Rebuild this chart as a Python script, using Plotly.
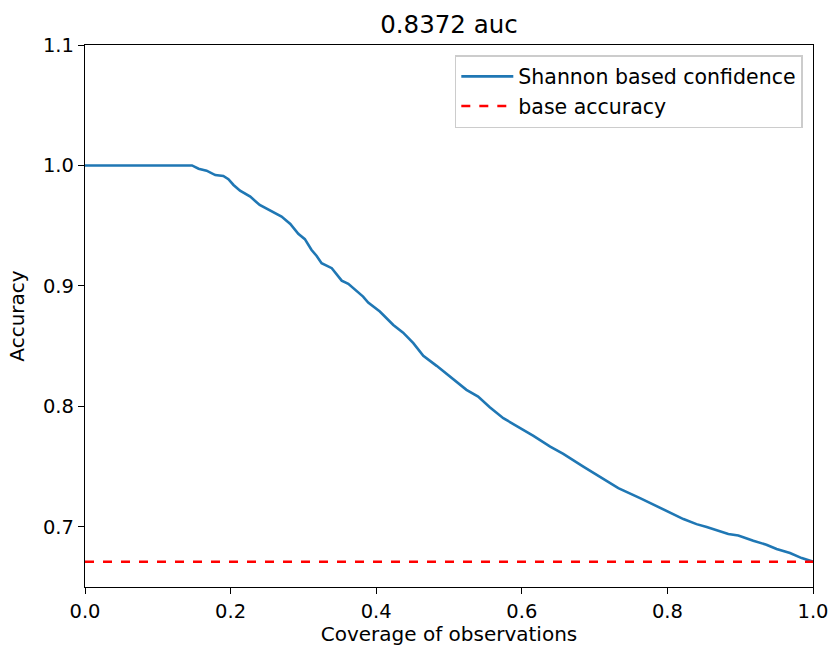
import plotly.graph_objects as go

coverage = [0.0, 0.147, 0.156, 0.167, 0.179, 0.190, 0.197, 0.204, 0.213, 0.227, 0.240, 0.254,
            0.270, 0.282, 0.293, 0.302, 0.311, 0.318, 0.325, 0.339, 0.3526, 0.3617, 0.3755,
            0.382, 0.389, 0.405, 0.4235, 0.437, 0.451, 0.4647, 0.483, 0.501, 0.524, 0.540,
            0.556, 0.5746, 0.593, 0.616, 0.639, 0.657, 0.6845, 0.7074, 0.7326, 0.7624,
            0.7944, 0.822, 0.840, 0.854, 0.8837, 0.8974, 0.918, 0.936, 0.950, 0.9684,
            0.9845, 1.0]
accuracy = [1.0, 1.0, 0.9973, 0.9957, 0.992, 0.9913, 0.9886, 0.9838, 0.979, 0.9741, 0.9672,
            0.963, 0.9575, 0.9514, 0.9432, 0.9388, 0.930, 0.925, 0.9188, 0.9147, 0.9044,
            0.9017, 0.894, 0.8911, 0.8862, 0.8787, 0.8676, 0.8612, 0.8524, 0.8419, 0.8336,
            0.8247, 0.8137, 0.8081, 0.7993, 0.7902, 0.7838, 0.7755, 0.7666, 0.7606, 0.750,
            0.7417, 0.7321, 0.7238, 0.7141, 0.7064, 0.7022, 0.6998, 0.694, 0.6928, 0.6884,
            0.6851, 0.6815, 0.6782, 0.6740, 0.671]
base_accuracy = 0.671
base_x = [0.0, 1.0]
title_text = "0.8372 auc"

FONT = "DejaVu Sans"

fig = go.Figure()
fig.add_trace(go.Scatter(x=coverage, y=accuracy, mode="lines",
                         name="Shannon based confidence",
                         line=dict(color="#1f77b4", width=2.6)))
fig.add_trace(go.Scatter(x=base_x, y=[base_accuracy] * len(base_x), mode="lines",
                         name="base accuracy",
                         line=dict(color="red", width=2.6, dash="dash")))

fig.update_layout(
    width=832, height=646,
    margin=dict(l=85, r=19, t=45, b=59, autoexpand=False),
    paper_bgcolor="white", plot_bgcolor="white",
    font=dict(family=FONT, size=19.5, color="black"),
    title=dict(text=title_text, x=0.5, xref="paper", xanchor="center",
               y=1 - 24 / 646, yanchor="middle", font=dict(size=24.5)),
    legend=dict(x=0.986, y=0.9815, xanchor="right", yanchor="top",
                bgcolor="white", bordercolor="#cccccc", borderwidth=1.5,
                font=dict(size=20.5), itemwidth=52, tracegroupgap=0),
    showlegend=True,
)
fig.update_xaxes(range=[0, 1], dtick=0.2, tickformat=".1f", showgrid=False, zeroline=False,
                 showline=True, linecolor="black", linewidth=1.3, mirror=True,
                 ticks="outside", ticklen=6, tickwidth=1.3, tickcolor="black", automargin=True,
                 title=dict(text="Coverage of observations", standoff=10, font=dict(size=20)))
fig.update_yaxes(range=[0.65, 1.1], tickvals=[0.7, 0.8, 0.9, 1.0, 1.1], tickformat=".1f",
                 showgrid=False, zeroline=False,
                 showline=True, linecolor="black", linewidth=1.3, mirror=True,
                 ticks="outside", ticklen=6, tickwidth=1.3, tickcolor="black", automargin=True,
                 title=dict(text="Accuracy", standoff=12, font=dict(size=20)))

fig.write_html("out.html")
